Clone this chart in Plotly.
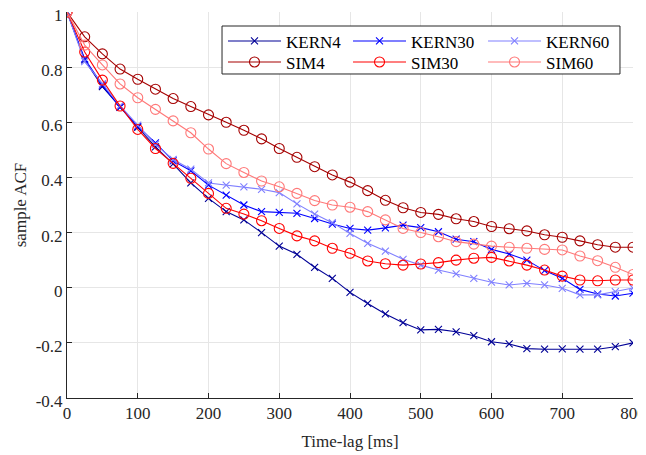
import plotly.graph_objects as go

lags = list(range(0, 825, 25))

kern4 = [1, 0.826, 0.729, 0.654, 0.582, 0.511, 0.449, 0.38, 0.324, 0.276, 0.246, 0.20, 0.151, 0.121, 0.074, 0.034,
         -0.017, -0.057, -0.095, -0.127, -0.153, -0.151, -0.16, -0.174, -0.196, -0.204, -0.221, -0.223, -0.222,
         -0.223, -0.223, -0.214, -0.20]
kern30 = [1, 0.83, 0.735, 0.655, 0.585, 0.525, 0.46, 0.424, 0.372, 0.336, 0.30, 0.276, 0.273, 0.27, 0.251, 0.231,
          0.215, 0.209, 0.217, 0.227, 0.218, 0.203, 0.176, 0.167, 0.139, 0.122, 0.10, 0.062, 0.034, -0.006,
          -0.023, -0.03, -0.02]
kern60 = [1, 0.82, 0.74, 0.66, 0.59, 0.52, 0.465, 0.43, 0.38, 0.372, 0.366, 0.357, 0.345, 0.304, 0.267, 0.236,
          0.197, 0.161, 0.133, 0.103, 0.082, 0.064, 0.05, 0.034, 0.02, 0.01, 0.016, 0.01, -0.002, -0.026,
          -0.026, -0.014, -0.001]
sim4 = [1, 0.91, 0.848, 0.793, 0.756, 0.72, 0.686, 0.657, 0.627, 0.60, 0.571, 0.54, 0.505, 0.473, 0.439, 0.409,
        0.383, 0.352, 0.317, 0.29, 0.273, 0.266, 0.25, 0.24, 0.222, 0.214, 0.206, 0.192, 0.183, 0.17, 0.156,
        0.147, 0.147]
sim30 = [1, 0.855, 0.753, 0.659, 0.574, 0.505, 0.451, 0.397, 0.342, 0.288, 0.267, 0.243, 0.215, 0.188, 0.17,
         0.143, 0.125, 0.097, 0.087, 0.082, 0.086, 0.091, 0.10, 0.107, 0.11, 0.097, 0.082, 0.064, 0.042, 0.028,
         0.025, 0.028, 0.028]
sim60 = [1, 0.88, 0.808, 0.739, 0.689, 0.647, 0.605, 0.562, 0.503, 0.45, 0.418, 0.387, 0.366, 0.342, 0.316,
         0.30, 0.292, 0.276, 0.246, 0.215, 0.20, 0.185, 0.167, 0.158, 0.151, 0.147, 0.143, 0.139, 0.137, 0.115,
         0.098, 0.074, 0.048]

x_ticks = [0, 100, 200, 300, 400, 500, 600, 700, 800]
y_ticks = [-0.4, -0.2, 0, 0.2, 0.4, 0.6, 0.8, 1]
y_labels = ["-0.4", "-0.2", "0", "0.2", "0.4", "0.6", "0.8", "1"]

# name, values, colour, symbol, legend id
series = [
    ("KERN4", kern4, "rgb(0,0,150)", "x-thin-open", "legend"),
    ("KERN30", kern30, "rgb(0,0,255)", "x-thin-open", "legend2"),
    ("KERN60", kern60, "rgb(128,128,255)", "x-thin-open", "legend3"),
    ("SIM4", sim4, "rgb(165,0,0)", "circle-open", "legend4"),
    ("SIM30", sim30, "rgb(255,0,0)", "circle-open", "legend5"),
    ("SIM60", sim60, "rgb(255,120,120)", "circle-open", "legend6"),
]

fig = go.Figure()
for name, vals, col, sym, leg in series:
    is_x = sym.startswith("x")
    fig.add_trace(go.Scatter(
        x=lags, y=vals, name=name, mode="lines+markers", legend=leg,
        line=dict(color=col, width=1.1),
        marker=dict(symbol=sym, size=7 if is_x else 10, color=col,
                    line=dict(color=col, width=1.1)),
    ))

font = "Liberation Serif, Times New Roman, Times, serif"

# legend layout (paper coords): 3 columns x 2 rows
col_x = [0.2756, 0.4965, 0.735]
row_y = [0.9238, 0.8694]
legends = {}
ids = ["legend", "legend2", "legend3", "legend4", "legend5", "legend6"]
for i, lid in enumerate(ids):
    legends[lid] = dict(
        x=col_x[i % 3], y=row_y[i // 3], xanchor="left", yanchor="middle",
        bgcolor="rgba(0,0,0,0)", borderwidth=0, itemwidth=53,
        font=dict(family=font, size=17, color="black"),
    )

fig.update_layout(
    width=646, height=447,
    margin=dict(l=59, r=21, t=4, b=57, autoexpand=False),
    paper_bgcolor="white", plot_bgcolor="white",
    font=dict(family=font, size=17, color="#262626"),
    showlegend=True,
    xaxis=dict(
        range=[0, 800], tickvals=x_ticks, ticks="inside", ticklen=5,
        tickcolor="#262626", showline=True, linecolor="#262626", linewidth=1,
        showgrid=True, gridcolor="#e6e6e6", zeroline=False, automargin=False,
        ticklabeloverflow="allow",
        title=dict(text="Time-lag [ms]", font=dict(size=17), standoff=12),
        tickfont=dict(size=17),
    ),
    yaxis=dict(
        range=[-0.4, 1], tickvals=y_ticks, ticktext=y_labels, ticks="inside", ticklen=5,
        tickcolor="#262626", showline=True, linecolor="#262626", linewidth=1,
        showgrid=True, gridcolor="#e6e6e6", zeroline=False, automargin=False,
        ticklabeloverflow="allow", ticklabelshift=3,
        title=dict(text="sample ACF", font=dict(size=17), standoff=4),
        tickfont=dict(size=17),
    ),
    shapes=[dict(
        type="rect", xref="paper", yref="paper", x0=0.2739, x1=0.977, y0=0.8394, y1=0.9637,
        line=dict(color="#262626", width=1), fillcolor="white", layer="above",
    )],
    **legends,
)

fig.write_html("out.html")
